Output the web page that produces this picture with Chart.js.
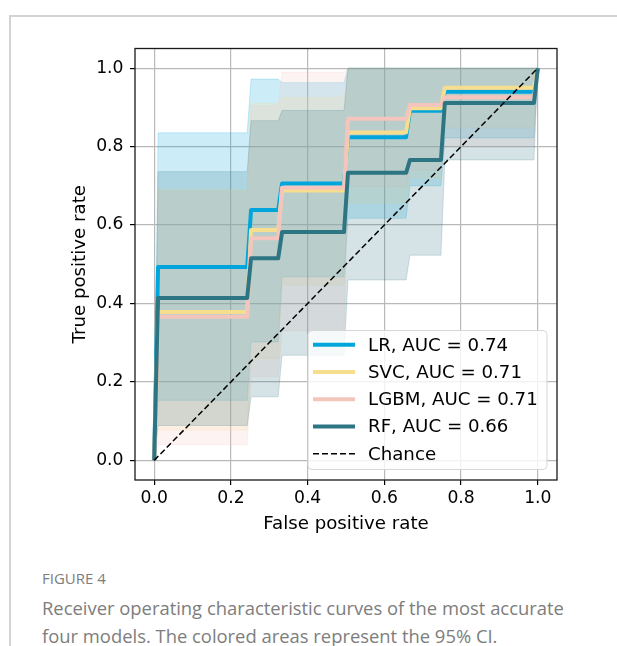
<!DOCTYPE html>
<html><head><meta charset="utf-8">
<script src="https://cdn.jsdelivr.net/npm/chart.js@4.4.1/dist/chart.umd.min.js"></script>
<style>
html,body{margin:0;padding:0;background:#fff;width:617px;height:646px;overflow:hidden;}
#frame{position:absolute;left:9px;top:15px;width:640px;height:660px;border-top:2px solid #d3d3d3;border-left:2px solid #d3d3d3;}
#wrap{position:absolute;left:0;top:0;width:617px;height:540px;}
.fig{position:absolute;left:42px;font-family:'Open Sans',sans-serif;color:#7d7d7d;white-space:nowrap;}
</style></head><body>
<div id="frame"></div>
<div id="wrap"><canvas id="c"></canvas></div>
<div class="fig" style="top:568px;font-size:15px;line-height:20px;">FIGURE 4</div>
<div class="fig" style="top:594px;font-size:18.4px;line-height:27.5px;">Receiver operating characteristic curves of the most accurate<br>four models. The colored areas represent the 95% CI.</div>
<script>
// ---- data ----
const models = ['LR', 'SVC', 'LGBM', 'RF'];
const aucValues = [0.74, 0.71, 0.71, 0.66];
const tickValues = [0.0, 0.2, 0.4, 0.6, 0.8, 1.0];
const fpr = [0, 0.0101, 0.2424, 0.2525, 0.3232, 0.3333, 0.4949, 0.5051, 0.6566, 0.6667, 0.7475, 0.7576, 0.9899, 1.0];

const tprLR   = [0, 0.493, 0.493, 0.638, 0.638, 0.706, 0.706, 0.824, 0.824, 0.891, 0.891, 0.940, 0.940, 1.0];
const tprSVC  = [0, 0.378, 0.378, 0.587, 0.587, 0.688, 0.688, 0.836, 0.836, 0.898, 0.898, 0.950, 0.950, 1.0];
const tprLGBM = [0, 0.366, 0.366, 0.566, 0.566, 0.695, 0.695, 0.871, 0.871, 0.906, 0.906, 0.926, 0.926, 1.0];
const tprRF   = [0, 0.414, 0.414, 0.515, 0.515, 0.582, 0.582, 0.733, 0.733, 0.766, 0.766, 0.911, 0.911, 1.0];

const upperLR   = [0, 0.835, 0.835, 0.972, 0.972, 0.963, 0.963, 1, 1, 1, 1, 1, 1, 1];
const lowerLR   = [0, 0.153, 0.153, 0.302, 0.302, 0.468, 0.468, 0.617, 0.617, 0.700, 0.700, 0.822, 0.822, 1];
const upperSVC  = [0, 0.690, 0.690, 0.910, 0.910, 0.925, 0.925, 1, 1, 1, 1, 1, 1, 1];
const lowerSVC  = [0, 0.077, 0.077, 0.260, 0.260, 0.447, 0.447, 0.656, 0.656, 0.720, 0.720, 0.848, 0.848, 1];
const upperLGBM = [0, 0.685, 0.685, 0.905, 0.905, 0.990, 0.990, 1, 1, 1, 1, 1, 1, 1];
const lowerLGBM = [0, 0.040, 0.040, 0.213, 0.213, 0.330, 0.330, 0.698, 0.698, 0.740, 0.740, 0.800, 0.800, 1];
const upperRF   = [0, 0.736, 0.736, 0.866, 0.866, 0.892, 0.892, 1, 1, 1, 1, 1, 1, 1];
const lowerRF   = [0, 0.089, 0.089, 0.162, 0.162, 0.268, 0.268, 0.460, 0.460, 0.523, 0.523, 0.766, 0.766, 1];

const chanceX = [0, 1];
const chanceY = [0, 1];

// ---- styles ----
const lineColors = ['#00A6DB', '#F7DE8E', '#F4C5BC', '#2E7584'];
const fillColors = ['rgba(0,166,219,0.2)', 'rgba(247,222,142,0.2)', 'rgba(244,197,188,0.2)', 'rgba(46,117,132,0.2)'];

const pts = (xs, ys) => xs.map((x, i) => ({x: x, y: ys[i]}));
const tprs = [tprLR, tprSVC, tprLGBM, tprRF];
const uppers = [upperLR, upperSVC, upperLGBM, upperRF];
const lowers = [lowerLR, lowerSVC, lowerLGBM, lowerRF];

const datasets = [];
datasets.push({label: 'Chance', data: pts(chanceX, chanceY), borderColor: '#000', borderWidth: 1.5,
  borderDash: [6, 3], pointRadius: 0, fill: false});
for (let i = models.length - 1; i >= 0; i--) {
  datasets.push({label: models[i] + ', AUC = ' + aucValues[i].toFixed(2), data: pts(fpr, tprs[i]),
    borderColor: lineColors[i], borderWidth: 4, pointRadius: 0, fill: false, borderJoinStyle: 'round'});
}
for (let i = models.length - 1; i >= 0; i--) {
  datasets.push({label: models[i] + ' upper', data: pts(fpr, uppers[i]), borderColor: fillColors[i],
    borderWidth: 1, pointRadius: 0, backgroundColor: fillColors[i], fill: '+1'});
  datasets.push({label: models[i] + ' lower', data: pts(fpr, lowers[i]), borderColor: fillColors[i],
    borderWidth: 1, pointRadius: 0, fill: false});
}

const FONT = 'DejaVu Sans';

const framePlugin = {
  id: 'frame',
  afterDatasetsDraw(chart) {
    const {ctx, chartArea: a} = chart;
    ctx.save();
    ctx.strokeStyle = '#1a1a1a';
    ctx.lineWidth = 1.3;
    ctx.strokeRect(a.left, a.top, a.right - a.left, a.bottom - a.top);
    ctx.restore();
  }
};

const legendPlugin = {
  id: 'boxLegend',
  afterDatasetsDraw(chart) {
    const {ctx, chartArea: a} = chart;
    const w = 239, h = 139;
    const x0 = a.right - 10 - w, y0 = a.bottom - 10.5 - h;
    ctx.save();
    const r = 4;
    ctx.beginPath();
    ctx.moveTo(x0 + r, y0);
    ctx.lineTo(x0 + w - r, y0); ctx.quadraticCurveTo(x0 + w, y0, x0 + w, y0 + r);
    ctx.lineTo(x0 + w, y0 + h - r); ctx.quadraticCurveTo(x0 + w, y0 + h, x0 + w - r, y0 + h);
    ctx.lineTo(x0 + r, y0 + h); ctx.quadraticCurveTo(x0, y0 + h, x0, y0 + h - r);
    ctx.lineTo(x0, y0 + r); ctx.quadraticCurveTo(x0, y0, x0 + r, y0);
    ctx.closePath();
    ctx.fillStyle = 'rgba(255,255,255,0.8)';
    ctx.fill();
    ctx.strokeStyle = '#d6d6d6';
    ctx.lineWidth = 1;
    ctx.stroke();
    const entries = models.map((m, i) => ({label: m + ', AUC = ' + aucValues[i].toFixed(2), color: lineColors[i], width: 4, dash: []}));
    entries.push({label: 'Chance', color: '#000', width: 1.5, dash: [6, 3]});
    entries.forEach((e, i) => {
      const cy = y0 + 14.3 + i * 27.25;
      ctx.beginPath();
      ctx.setLineDash(e.dash);
      ctx.strokeStyle = e.color;
      ctx.lineWidth = e.width;
      ctx.moveTo(x0 + 5, cy); ctx.lineTo(x0 + 47, cy);
      ctx.stroke();
      ctx.setLineDash([]);
      ctx.fillStyle = '#000';
      ctx.font = '18.2px "' + FONT + '"';
      ctx.textBaseline = 'middle';
      ctx.textAlign = 'left';
      ctx.fillText(e.label, x0 + 60, cy + 1);
    });
    ctx.restore();
  }
};

const axisCommon = {
  type: 'linear', min: -0.05, max: 1.05,
  afterBuildTicks: (axis) => { axis.ticks = tickValues.map(v => ({value: v})); },
  grid: {color: '#b9b9b9', lineWidth: 1.2, tickLength: 5, tickColor: '#000', tickWidth: 1.2, drawTicks: true},
  border: {display: false},
};

new Chart(document.getElementById('c'), {
  type: 'line',
  data: {datasets: datasets},
  options: {
    responsive: true, maintainAspectRatio: false, animation: false, events: [],
    layout: {padding: {left: 0, top: 48.5, right: 60, bottom: 0}},
    plugins: {legend: {display: false}, tooltip: {enabled: false}, filler: {propagate: false}},
    elements: {line: {tension: 0}},
    scales: {
      x: Object.assign({}, axisCommon, {
        position: 'bottom',
        afterFit: (s) => { s.height = 60; },
        ticks: {autoSkip: false, maxRotation: 0, padding: 3, color: '#000', font: {family: FONT, size: 17.2},
          callback: (v) => Number(v).toFixed(1)},
        title: {display: true, text: 'False positive rate', color: '#000', font: {family: FONT, size: 18.2},
          padding: {top: 0, bottom: 5}}
      }),
      y: Object.assign({}, axisCommon, {
        position: 'left',
        afterFit: (s) => { s.width = 135; },
        ticks: {autoSkip: false, padding: 6.5, color: '#000', font: {family: FONT, size: 17.2},
          callback: (v) => Number(v).toFixed(1)},
        title: {display: true, text: 'True positive rate', color: '#000', font: {family: FONT, size: 18.2},
          padding: {top: 69, bottom: 0}}
      })
    }
  },
  plugins: [framePlugin, legendPlugin]
});
</script>
</body></html>
